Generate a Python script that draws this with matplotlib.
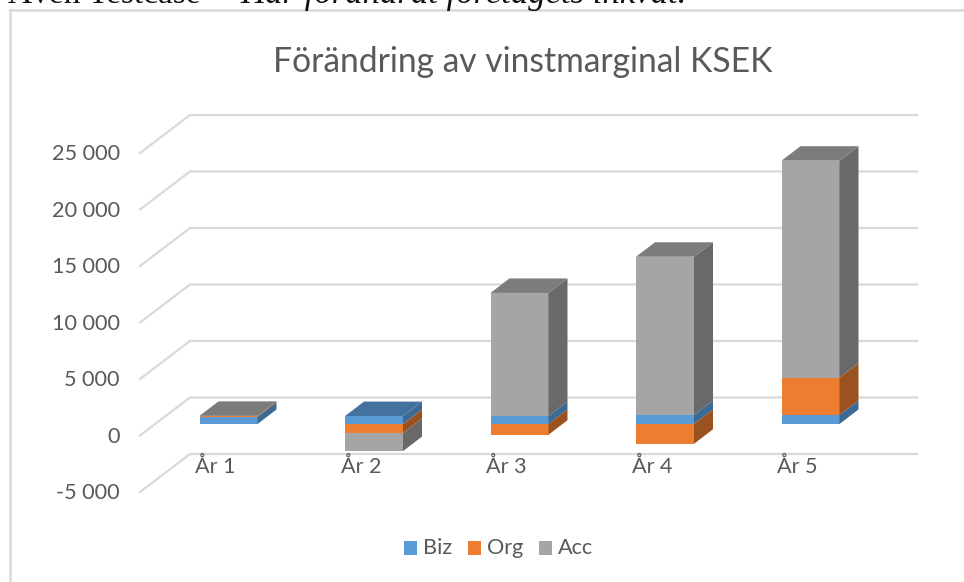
import matplotlib
matplotlib.use("Agg")
import matplotlib.pyplot as plt
from matplotlib.patches import Polygon, Rectangle

categories = ["År 1", "År 2", "År 3", "År 4", "År 5"]
biz = [620, 700, 700, 800, 800]
org = [90, -800, -950, -1750, 3300]
acc = [10, -1600, 10900, 14000, 19200]
ticks = [-5000, 0, 5000, 10000, 15000, 20000, 25000]
series_names = ["Biz", "Org", "Acc"]
colors = ["#5B9BD5", "#ED7D31", "#A5A5A5"]
side = ["#3B6A94", "#9A5220", "#696969"]
top = ["#44729E", "#B0622A", "#7C7C7C"]
title = "Förändring av vinstmarginal KSEK"
above_plain = "Även Testcase  –"
above_italic = "Har förändrat företagets inkvat."

W, H = 964, 582
KX = 145.5       # px per category
KY = 56.5 / 5000 # px per unit
X0, Y0 = 228.5, 424.0  # px location of category 0, value 0 on the bars' front plane

fig = plt.figure(figsize=(W / 100, H / 100), dpi=100, facecolor="white")
ax = fig.add_axes([0, 0, 1, 1])
ax.set_xlim(-X0 / KX, (W - X0) / KX)
ax.set_ylim((Y0 - H) / KY, Y0 / KY)
ax.axis("off")

plt.rcParams["font.family"] = ["Lato", "DejaVu Sans"]
FONT = ["Lato", "DejaVu Sans"]
TXT = "#595959"
GRID = "#D9D9D9"

def dx(p): return p / KX
def dy(p): return p / KY

# running text cut off by the top of the picture, as in the reference
ax.text(dx(8 - X0), dy(Y0 - 3), above_plain, ha="left", va="baseline", fontsize=24,
        family="Liberation Serif", color="#111111")
ax.text(dx(240 - X0), dy(Y0 - 3), above_italic, ha="left", va="baseline", fontsize=25,
        family="Liberation Serif", style="italic", color="#111111")

# chart frame
ax.plot([dx(9.5 - X0)] * 2, [(Y0 - H) / KY, dy(Y0 - 9.5)], color="#D9D9D9", lw=1.8, zorder=1,
        solid_capstyle="projecting")
ax.plot([dx(9.5 - X0), dx(W - X0)], [dy(Y0 - 9.5)] * 2, color="#D9D9D9", lw=1.8, zorder=1,
        solid_capstyle="projecting")

# gridlines: floor depth offsets relative to the bars' front plane
fx, fy = -15.5, -11.5   # front edge of floor
bx, by = 34.0, 26.5     # back wall
right = 917 - X0
for v in ticks:
    y_front = v + dy(fy)
    y_back = v + dy(by)
    x_front = dx(140 - X0)
    x_back = dx(190 - X0)
    ax.plot([x_front, x_back, dx(right)], [y_front, y_back, y_back], color=GRID, lw=1.6, zorder=2,
            solid_joinstyle="miter")
    ax.text(dx(120 - X0), y_front - dy(1.2), f"{v:,}".replace(",", " "), ha="right", va="center",
            fontsize=15.6, color=TXT, family=FONT, zorder=5)

# 3-D stacked bars
w = 58 / KX
ddx, ddy = dx(19), dy(14.5)
for i in range(len(categories)):
    pos, neg = 0.0, 0.0
    vals = (biz[i], org[i], acc[i])
    top_idx, top_val = 0, 0
    for s, v in enumerate(vals):
        if v >= 0:
            b = pos
            pos += v
            top_val, top_idx = pos, s
        else:
            b = neg + v
            neg += v
        h = abs(v)
        r = i + w / 2
        ax.bar(i, h, width=w, bottom=b, color=colors[s], linewidth=0, zorder=4)
        ax.add_patch(Polygon([(r, b), (r + ddx, b + ddy), (r + ddx, b + h + ddy), (r, b + h)],
                             closed=True, fc=side[s], ec="none", zorder=4))
    l, r = i - w / 2, i + w / 2
    ax.add_patch(Polygon([(l, top_val), (l + ddx, top_val + ddy), (r + ddx, top_val + ddy), (r, top_val)],
                         closed=True, fc=top[top_idx], ec="none", zorder=4))
    ax.text(i - dx(33.5), dy(Y0 - 467), categories[i], ha="left", va="center", fontsize=15.6,
            color=TXT, family=FONT, zorder=5)

# title
ax.text(dx(523 - X0), dy(Y0 - 62), title, ha="center", va="center", fontsize=24.2,
        color=TXT, family=FONT, zorder=5)

# legend
for name, c, sx, tx in zip(series_names, colors, [404, 468, 539], [423, 487, 558]):
    ax.add_patch(Rectangle((dx(sx - X0), dy(Y0 - 555)), dx(13), dy(14), fc=c, ec="none", zorder=5))
    ax.text(dx(tx - X0), dy(Y0 - 548), name, ha="left", va="center", fontsize=15.6, color=TXT,
            family=FONT, zorder=5)

fig.savefig("out.png", dpi=100, facecolor="white")
